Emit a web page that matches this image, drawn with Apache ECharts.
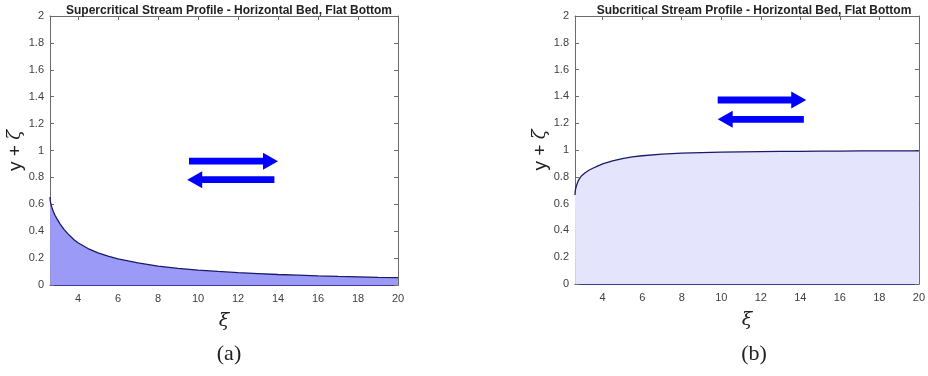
<!DOCTYPE html>
<html>
<head>
<meta charset="utf-8">
<script src="https://cdn.jsdelivr.net/npm/echarts@6/dist/echarts.min.js"></script>
<style>
  html, body { margin: 0; padding: 0; background: #fff; }
  #chart { width: 928px; height: 376px; }
</style>
</head>
<body>
<div id="chart"></div>
<script>
// xi positions along the channel
const xi = [2.6, 2.61, 2.63, 2.66, 2.7, 2.77, 2.85, 2.95, 3.1, 3.3, 3.5, 3.8, 4, 4.5, 5, 5.5, 6, 7, 8, 9, 10, 11, 12, 13, 14, 15, 16, 17, 18, 19, 20];
// depth + bed, supercritical branch
const superDepth = [0.654, 0.63, 0.612, 0.594, 0.574, 0.545, 0.519, 0.492, 0.455, 0.414, 0.38, 0.337, 0.314, 0.271, 0.239, 0.215, 0.194, 0.164, 0.141, 0.124, 0.111, 0.101, 0.092, 0.085, 0.078, 0.073, 0.068, 0.064, 0.061, 0.057, 0.055];
// depth + bed, subcritical branch
const subDepth = [0.664, 0.69, 0.708, 0.726, 0.745, 0.772, 0.792, 0.81, 0.829, 0.849, 0.864, 0.884, 0.896, 0.918, 0.936, 0.948, 0.957, 0.969, 0.976, 0.981, 0.984, 0.986, 0.988, 0.989, 0.99, 0.991, 0.992, 0.993, 0.993, 0.994, 0.994];
const xTicks = [4, 6, 8, 10, 12, 14, 16, 18, 20];
// arrows: [from xi, to xi, level]
const superArrows = [[9.55, 14.0, 0.921], [13.82, 9.46, 0.783]];
const subArrows = [[9.82, 14.3, 1.373], [14.18, 9.82, 1.229]];

const chart = echarts.init(document.getElementById('chart'));
const axisGray = '#6b6b6b';
const labelGray = '#404040';
const sans = 'Liberation Sans';

function arrowItem(params, api) {
  const a = api.coord([api.value(0), api.value(2)]);
  const b = api.coord([api.value(1), api.value(2)]);
  const d = b[0] > a[0] ? 1 : -1;
  const hl = 15, hw = 8.5, sw = 3.4;
  const y = a[1];
  const hx = b[0] - d * hl;
  return {
    type: 'polygon',
    shape: { points: [[a[0], y - sw], [hx, y - sw], [hx, y - hw], [b[0], y], [hx, y + hw], [hx, y + sw], [a[0], y + sw]] },
    style: { fill: '#0000ff' }
  };
}

function xAxes(grid) {
  const base = {
    gridIndex: grid, type: 'value', min: 2.6, max: 20,
    splitLine: { show: false },
    axisTick: { inside: true, length: 4, customValues: xTicks, lineStyle: { color: axisGray } }
  };
  return [
    Object.assign({}, base, {
      position: 'bottom',
      axisLine: { onZero: false, lineStyle: { color: '#3b3b8f', width: 1 } },
      axisLabel: { customValues: xTicks, color: labelGray, fontFamily: sans, fontSize: 11, margin: 8 },
      name: 'ξ', nameLocation: 'middle', nameGap: 27,
      nameTextStyle: { fontFamily: 'DejaVu Serif', fontStyle: 'italic', fontSize: 19, color: '#222' }
    }),
    Object.assign({}, base, {
      position: 'top',
      axisLine: { onZero: false, lineStyle: { color: axisGray, width: 1 } },
      axisLabel: { show: false }
    })
  ];
}

function yAxes(grid) {
  const base = {
    gridIndex: grid, type: 'value', min: 0, max: 2, interval: 0.2,
    splitLine: { show: false },
    axisTick: { inside: true, length: 4, lineStyle: { color: axisGray } }
  };
  return [
    Object.assign({}, base, {
      position: 'left',
      axisLine: { show: true, onZero: false, lineStyle: { color: axisGray } },
      axisLabel: { color: labelGray, fontFamily: sans, fontSize: 11, margin: 6 },
      name: '{n|y + }{z|ζ}', nameLocation: 'middle', nameGap: 25, nameRotate: 90,
      nameTextStyle: {
        rich: {
          n: { fontFamily: sans, fontSize: 19, color: '#222' },
          z: { fontFamily: 'DejaVu Serif', fontStyle: 'italic', fontSize: 18, color: '#222' }
        }
      }
    }),
    Object.assign({}, base, {
      position: 'right',
      axisLine: { show: true, onZero: false, lineStyle: { color: axisGray } },
      axisLabel: { show: false }
    })
  ];
}

function profile(x, y, fill, idx) {
  return {
    type: 'line', xAxisIndex: idx * 2, yAxisIndex: idx * 2,
    data: x.map((v, i) => [v, y[i]]),
    showSymbol: false, smooth: false,
    lineStyle: { color: '#1a1a6b', width: 1.3 },
    areaStyle: { color: fill, opacity: 1 },
    z: 1
  };
}

function arrows(list, idx) {
  return {
    type: 'custom', xAxisIndex: idx * 2, yAxisIndex: idx * 2,
    data: list, renderItem: arrowItem, z: 5, silent: true
  };
}

chart.setOption({
  animation: false,
  backgroundColor: '#fff',
  title: [
    { text: 'Supercritical Stream Profile - Horizontal Bed, Flat Bottom', left: 224, top: 0, textAlign: 'center',
      textStyle: { fontFamily: sans, fontWeight: 'bold', fontSize: 12, color: '#222' } },
    { text: 'Subcritical Stream Profile - Horizontal Bed, Flat Bottom', left: 749, top: 0, textAlign: 'center',
      textStyle: { fontFamily: sans, fontWeight: 'bold', fontSize: 12, color: '#222' } },
    { text: '(a)', left: 224, top: 338, textAlign: 'center',
      textStyle: { fontFamily: 'Liberation Serif', fontWeight: 'normal', fontSize: 22, color: '#222' } },
    { text: '(b)', left: 749, top: 338, textAlign: 'center',
      textStyle: { fontFamily: 'Liberation Serif', fontWeight: 'normal', fontSize: 22, color: '#222' } }
  ],
  grid: [
    { left: 50, right: 530, top: 16, bottom: 91 },
    { left: 575, right: 5, top: 16, bottom: 92 }
  ],
  xAxis: xAxes(0).concat(xAxes(1)),
  yAxis: yAxes(0).concat(yAxes(1)),
  series: [
    profile(xi, superDepth, '#9b9bf7', 0),
    profile(xi, subDepth, '#e4e4fd', 1),
    arrows(superArrows, 0),
    arrows(subArrows, 1)
  ]
});
</script>
</body>
</html>
